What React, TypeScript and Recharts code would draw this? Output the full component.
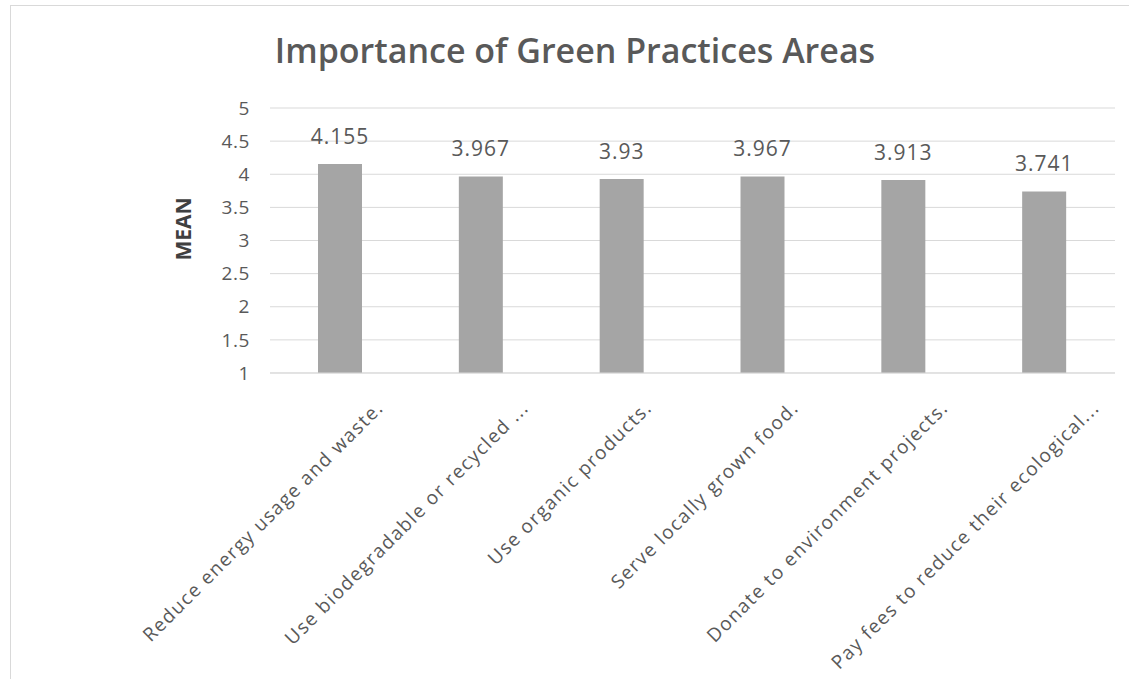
import React from 'react';
import { BarChart, Bar, XAxis, YAxis, CartesianGrid, LabelList } from 'recharts';

const categories = [
    'Reduce energy usage and waste.',
    'Use biodegradable or recycled ...',
    'Use organic products.',
    'Serve locally grown food.',
    'Donate to environment projects.',
    'Pay fees to reduce their ecological...',
];
const means = [4.155, 3.967, 3.93, 3.967, 3.913, 3.741];
const yTicks = [1, 1.5, 2, 2.5, 3, 3.5, 4, 4.5, 5];

const data = categories.map((name, i) => ({ name, mean: means[i] }));

const FONT = '"Open Sans", "Noto Sans", sans-serif';

const XTick = (props: any) => {
    const { x, y, payload } = props;
    const text: string = payload.value;
    const tx = x + text.length * 1.47;
    const ty = y + 34;
    return (
        <text
            x={tx}
            y={ty}
            transform={`rotate(-45, ${tx}, ${ty})`}
            textAnchor="end"
            fill="#595959"
            fontSize={19}
            fontFamily={FONT}
            letterSpacing={1.4}
        >
            {text}
        </text>
    );
};

const App: React.FC = () => {
    return (
        <div style={{ position: 'absolute', left: 0, top: 0, width: 1129, height: 679, background: '#fff', overflow: 'hidden' }}>
            <div style={{ position: 'absolute', left: 10, top: 5, width: 1140, height: 700, border: '1px solid #d9d9d9' }} />
            <BarChart
                width={1129}
                height={679}
                data={data}
                margin={{ top: 108, right: 14, bottom: 0, left: 0 }}
                barSize={44}
                style={{ position: 'absolute', left: 0, top: 0 }}
            >
                <text x={575} y={63} textAnchor="middle" fill="#595959" fontSize={34} fontWeight={600} fontFamily={FONT}>
                    Importance of Green Practices Areas
                </text>
                <text
                    x={191}
                    y={229}
                    transform="rotate(-90, 191, 229)"
                    textAnchor="middle"
                    fill="#404040"
                    fontSize={21}
                    fontWeight={700}
                    fontFamily={FONT}
                >
                    MEAN
                </text>
                <CartesianGrid vertical={false} stroke="#d9d9d9" />
                <XAxis
                    dataKey="name"
                    interval={0}
                    height={306}
                    tickLine={false}
                    tickSize={0}
                    axisLine={{ stroke: '#d9d9d9' }}
                    tick={<XTick />}
                />
                <YAxis
                    domain={[1, 5]}
                    ticks={yTicks}
                    width={270}
                    axisLine={false}
                    tickLine={false}
                    tickSize={0}
                    tickMargin={20}
                    tick={{ fill: '#595959', fontSize: 19, fontFamily: FONT, letterSpacing: 0.6 }}
                />
                <Bar dataKey="mean" fill="#a5a5a5" isAnimationActive={false}>
                    <LabelList
                        dataKey="mean"
                        position="top"
                        offset={20}
                        fill="#595959"
                        fontSize={21}
                        fontFamily={FONT}
                        letterSpacing={1}
                    />
                </Bar>
            </BarChart>
        </div>
    );
};

export default App;
